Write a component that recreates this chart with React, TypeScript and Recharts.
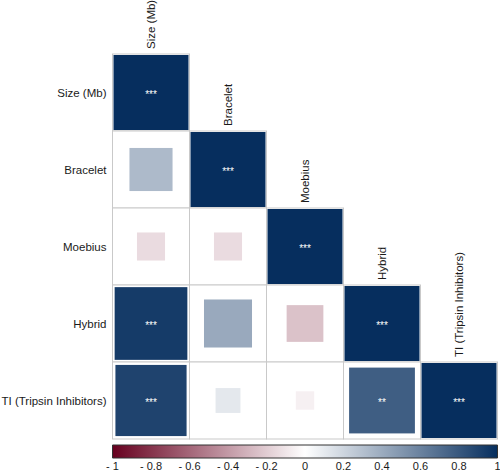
import React from "react";
import {
  ScatterChart,
  Scatter,
  XAxis,
  YAxis,
  BarChart,
  Bar,
} from "recharts";

const variables = ["Size (Mb)", "Bracelet", "Moebius", "Hybrid", "TI (Tripsin Inhibitors)"];

// lower triangle, row by row (row i has i values, columns 0..i-1)
const corrBracelet = [0.33];
const corrMoebius = [-0.14, -0.14];
const corrHybrid = [0.94, 0.41, -0.24];
const corrTI = [0.9, 0.11, -0.06, 0.77];

const sigBracelet = [""];
const sigMoebius = ["", ""];
const sigHybrid = ["***", "", ""];
const sigTI = ["***", "", "", "**"];
const sigDiagonal = ["***", "***", "***", "***", "***"];

const legendTicks = [-1, -0.8, -0.6, -0.4, -0.2, 0, 0.2, 0.4, 0.6, 0.8, 1];

const FONT = "'Liberation Sans', Arial, Helvetica, sans-serif";
const WIDTH = 500;
const PLOT_LEFT = 112.5;
const PLOT_TOP = 54;
const PLOT_SIZE = 385;
const CELL = PLOT_SIZE / variables.length;

const RED = [103, 0, 31];
const NAVY = [6, 46, 94];

function corrColor(r: number) {
  const t = Math.min(1, Math.abs(r));
  const end = r < 0 ? RED : NAVY;
  const c = end.map((v) => Math.round(255 + (v - 255) * t));
  return `rgb(${c[0]},${c[1]},${c[2]})`;
}

const rows = [[], corrBracelet, corrMoebius, corrHybrid, corrTI] as number[][];
const sigRows = [[], sigBracelet, sigMoebius, sigHybrid, sigTI] as string[][];

const cells: { x: number; y: number }[] = [];
const squares: { x: number; y: number; r: number; sig: string }[] = [];
const diagonal: { x: number; y: number; name: string; sig: string }[] = [];

variables.forEach((name, i) => {
  for (let j = 0; j <= i; j++) cells.push({ x: j + 0.5, y: i + 0.5 });
  rows[i].forEach((r, j) => squares.push({ x: j + 0.5, y: i + 0.5, r, sig: sigRows[i][j] }));
  diagonal.push({ x: i + 0.5, y: i + 0.5, name, sig: sigDiagonal[i] });
});

const legendData = [{ name: "scale", range: [-1, 1] }];

function Stars({ cx, cy, sig }: { cx: number; cy: number; sig: string }) {
  if (!sig) return null;
  return (
    <text x={cx} y={cy + 5.5} textAnchor="middle" fill="#ffffff" fontSize={10} fontFamily={FONT}>
      {sig}
    </text>
  );
}

function CellShape(props: any) {
  const { cx, cy } = props;
  return (
    <rect
      x={cx - CELL / 2}
      y={cy - CELL / 2}
      width={CELL}
      height={CELL}
      fill="#ffffff"
      stroke="#c9c9c9"
      strokeWidth={1}
    />
  );
}

function SquareShape(props: any) {
  const { cx, cy, payload } = props;
  const side = Math.sqrt(Math.abs(payload.r)) * (CELL - 2);
  return (
    <g>
      <rect x={cx - side / 2} y={cy - side / 2} width={side} height={side} fill={corrColor(payload.r)} />
      <Stars cx={cx} cy={cy} sig={payload.sig} />
    </g>
  );
}

function DiagonalShape(props: any) {
  const { cx, cy, payload } = props;
  const side = CELL - 2;
  const ly = cy - CELL / 2 - 5;
  return (
    <g>
      <rect x={cx - side / 2} y={cy - side / 2} width={side} height={side} fill={corrColor(1)} />
      <Stars cx={cx} cy={cy} sig={payload.sig} />
      <text
        x={cx}
        y={ly}
        transform={`rotate(-90, ${cx}, ${ly})`}
        textAnchor="start"
        dominantBaseline="central"
        fontSize={11.5}
        fontFamily={FONT}
        fill="#1a1a1a"
      >
        {payload.name}
      </text>
    </g>
  );
}

function RowTick(props: any) {
  const { x, y, payload } = props;
  return (
    <text
      x={x}
      y={y}
      textAnchor="end"
      dominantBaseline="central"
      fontSize={11.5}
      fontFamily={FONT}
      fill="#1a1a1a"
    >
      {variables[Math.floor(payload.value)]}
    </text>
  );
}

function formatLegend(v: number) {
  if (v < 0) return `- ${Math.abs(v)}`;
  return `${v}`;
}

export default function App() {
  return (
    <div style={{ position: "absolute", left: 0, top: 0, width: WIDTH, height: 475, background: "#fff" }}>
      <ScatterChart
        width={WIDTH}
        height={PLOT_TOP + PLOT_SIZE + 1}
        margin={{ top: PLOT_TOP, right: WIDTH - PLOT_LEFT - PLOT_SIZE, bottom: 1, left: 0 }}
        style={{ overflow: "visible" }}
      >
        <XAxis type="number" dataKey="x" domain={[0, 5]} hide />
        <YAxis
          type="number"
          dataKey="y"
          domain={[0, 5]}
          reversed
          width={PLOT_LEFT}
          ticks={[0.5, 1.5, 2.5, 3.5, 4.5]}
          axisLine={false}
          tickLine={false}
          tickSize={0}
          tickMargin={6}
          interval={0}
          tick={RowTick}
        />
        <Scatter data={cells} shape={CellShape} isAnimationActive={false} />
        <Scatter data={squares} shape={SquareShape} isAnimationActive={false} />
        <Scatter data={diagonal} shape={DiagonalShape} isAnimationActive={false} />
      </ScatterChart>
      <div style={{ position: "absolute", left: 0, top: 440 }}>
        <BarChart
          width={WIDTH}
          height={35}
          layout="vertical"
          data={legendData}
          barCategoryGap={0}
          margin={{ top: 5, right: WIDTH - PLOT_LEFT - PLOT_SIZE, bottom: 0, left: PLOT_LEFT }}
          style={{ overflow: "visible" }}
        >
          <defs>
            <linearGradient id="corrGrad" x1="0" y1="0" x2="1" y2="0">
              <stop offset="0%" stopColor={corrColor(-1)} />
              <stop offset="50%" stopColor="#ffffff" />
              <stop offset="100%" stopColor={corrColor(1)} />
            </linearGradient>
          </defs>
          <XAxis
            type="number"
            domain={[-1, 1]}
            ticks={legendTicks}
            tickFormatter={formatLegend}
            interval={0}
            axisLine={false}
            tickLine={false}
            tickSize={0}
            tickMargin={4}
            height={17}
            tick={{ fontSize: 11, fill: "#1a1a1a", fontFamily: FONT }}
          />
          <YAxis type="category" dataKey="name" hide />
          <Bar dataKey="range" fill="url(#corrGrad)" stroke="#333333" strokeWidth={1} isAnimationActive={false} />
        </BarChart>
      </div>
    </div>
  );
}
